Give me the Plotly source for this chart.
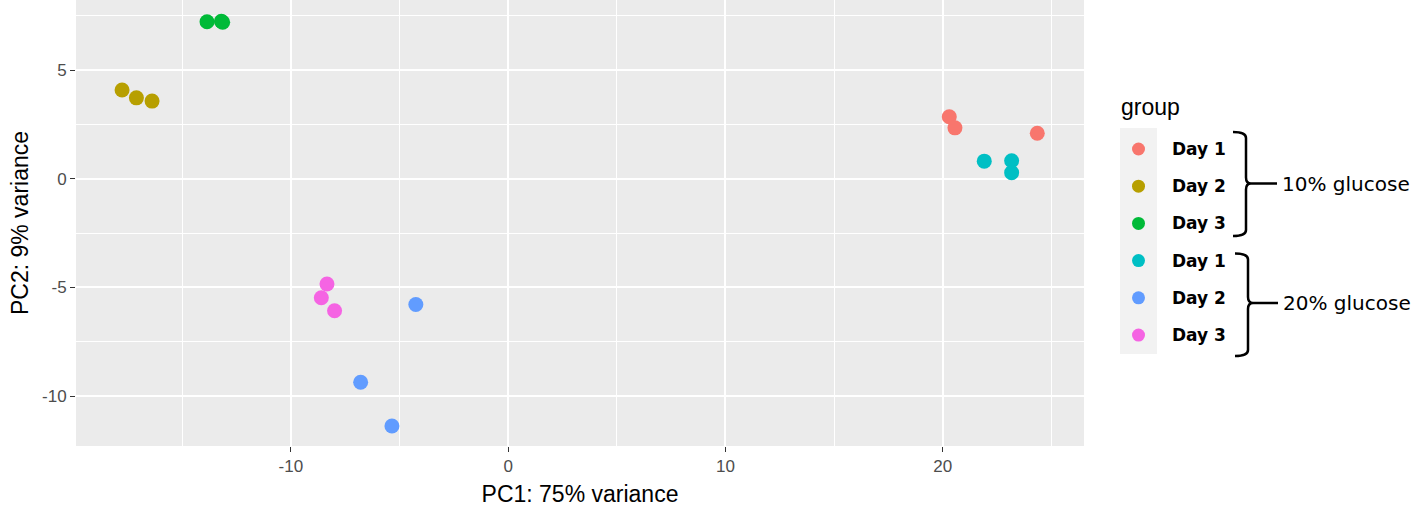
import plotly.graph_objects as go

# PCA scores per group
group_labels = ["Day 1", "Day 2", "Day 3", "Day 1", "Day 2", "Day 3"]
conditions = ["10% glucose", "20% glucose"]
group_colors = ["#F8766D", "#B79F00", "#00BA38", "#00BFC4", "#619CFF", "#F564E3"]

pc1_values = [
    [20.30, 20.56, 24.35],
    [-17.77, -17.11, -16.39],
    [-13.86, -13.20, -13.14],
    [21.91, 23.17, 23.17],
    [-4.25, -6.79, -5.35],
    [-8.34, -8.60, -7.99],
]
pc2_values = [
    [2.85, 2.34, 2.09],
    [4.08, 3.72, 3.57],
    [7.22, 7.24, 7.20],
    [0.81, 0.83, 0.28],
    [-5.78, -9.36, -11.37],
    [-4.84, -5.47, -6.07],
]

x_ticks = [-10, 0, 10, 20]
x_tick_labels = ["-10", "0", "10", "20"]
y_ticks = [-10, -5, 0, 5]
y_tick_labels = ["-10", "-5", "0", "5"]

# figure geometry in pixels
W, H = 1417, 520
L, R, T, B = 76, 0, 0, 74
PW = W - L - R
PH = H - T - B

AXIS_FONT = "Liberation Sans, Arial, sans-serif"
LEGEND_FONT = "DejaVu Sans, sans-serif"


def fx(p):
    """pixel x -> paper x"""
    return (p - L) / PW


def fy(p):
    """pixel y -> paper y"""
    return (T + PH - p) / PH


def brace_path(top, mid, bottom, left, spine, nub):
    r = 6
    return (
        f"M {fx(left)},{fy(top)} "
        f"Q {fx(spine)},{fy(top)} {fx(spine)},{fy(top + r)} "
        f"L {fx(spine)},{fy(mid - r)} "
        f"Q {fx(spine)},{fy(mid)} {fx(nub)},{fy(mid)} "
        f"Q {fx(spine)},{fy(mid)} {fx(spine)},{fy(mid + r)} "
        f"L {fx(spine)},{fy(bottom - r)} "
        f"Q {fx(spine)},{fy(bottom)} {fx(left)},{fy(bottom)}"
    )


fig = go.Figure()

for i, label in enumerate(group_labels):
    fig.add_trace(
        go.Scatter(
            x=pc1_values[i],
            y=pc2_values[i],
            mode="markers",
            name=f"{label} ({conditions[i // 3]})",
            marker=dict(color=group_colors[i], size=15, line=dict(width=0)),
            showlegend=False,
            xaxis="x",
            yaxis="y",
        )
    )

# hand made legend keys on a hidden second axis
fig.add_trace(
    go.Scatter(
        x=[0.5] * len(group_labels),
        y=list(range(len(group_labels))),
        mode="markers",
        marker=dict(color=group_colors, size=13, line=dict(width=0)),
        showlegend=False,
        hoverinfo="skip",
        xaxis="x2",
        yaxis="y2",
    )
)

axis_common = dict(
    showgrid=True,
    gridcolor="white",
    gridwidth=1.8,
    zeroline=False,
    showline=False,
    automargin=False,
    ticks="outside",
    ticklen=5,
    tickwidth=1.2,
    tickcolor="#333333",
    tickfont=dict(family=AXIS_FONT, size=17, color="#4D4D4D"),
    title_font=dict(family=AXIS_FONT, size=23, color="black"),
)

fig.update_layout(
    width=W,
    height=H,
    margin=dict(l=L, r=R, t=T, b=B),
    paper_bgcolor="white",
    plot_bgcolor="#EBEBEB",
    xaxis=dict(
        domain=[0, fx(1084)],
        range=[-19.89, 26.5],
        tickvals=x_ticks,
        ticktext=x_tick_labels,
        title=dict(text="PC1: 75% variance", standoff=10),
        minor=dict(dtick=5, tick0=0, showgrid=True, gridcolor="white", gridwidth=0.9),
        anchor="y",
        **axis_common,
    ),
    yaxis=dict(
        domain=[0, 1],
        range=[-12.29, 8.22],
        tickvals=y_ticks,
        ticktext=y_tick_labels,
        title=dict(text="PC2: 9% variance", standoff=6),
        minor=dict(dtick=2.5, tick0=0, showgrid=True, gridcolor="white", gridwidth=0.9),
        anchor="x",
        **axis_common,
    ),
    xaxis2=dict(domain=[fx(1120), fx(1157)], range=[0, 1], visible=False,
                anchor="y2", fixedrange=True, automargin=False),
    yaxis2=dict(domain=[fy(354), fy(128)], range=[5.51, -0.565], visible=False,
                anchor="x2", fixedrange=True, automargin=False),
    showlegend=False,
)

shapes = [
    # legend key background
    dict(type="rect", xref="x2 domain", yref="y2 domain", x0=0, x1=1, y0=0, y1=1,
         fillcolor="#F2F2F2", line=dict(width=0), layer="below"),
]
braces = [
    (132, 183.5, 236, 1233, 1246, 1251, 1277),
    (253.5, 303, 356, 1235, 1248, 1253, 1278),
]
for top, mid, bottom, left, spine, nub, end in braces:
    shapes.append(dict(type="path", xref="paper", yref="paper",
                       path=brace_path(top, mid, bottom, left, spine, nub),
                       line=dict(color="black", width=2.5)))
    shapes.append(dict(type="line", xref="paper", yref="paper",
                       x0=fx(nub), x1=fx(end), y0=fy(mid), y1=fy(mid),
                       line=dict(color="black", width=2.5)))
fig.update_layout(shapes=shapes)

annotations = [
    dict(text="group", xref="paper", yref="paper", x=fx(1119), y=fy(107),
         xanchor="left", yanchor="middle", showarrow=False,
         font=dict(family=AXIS_FONT, size=23, color="black")),
]
for i, label in enumerate(group_labels):
    annotations.append(
        dict(text=f"<b>{label}</b>", xref="paper", yref="y2", x=fx(1170), y=i,
             xanchor="left", yanchor="middle", showarrow=False,
             font=dict(family=LEGEND_FONT, size=17, color="black"))
    )
for cond, (top, mid, bottom, left, spine, nub, end) in zip(conditions, braces):
    annotations.append(
        dict(text=cond, xref="paper", yref="paper", x=fx(end + 3), y=fy(mid),
             xanchor="left", yanchor="middle", showarrow=False,
             font=dict(family=LEGEND_FONT, size=20, color="black"))
    )
fig.update_layout(annotations=annotations)

# drop the default page margin so the figure sits at the window's corner
fig.write_html(
    "out.html",
    config={"displayModeBar": False},
    post_script="document.body.style.margin = '0';",
)
